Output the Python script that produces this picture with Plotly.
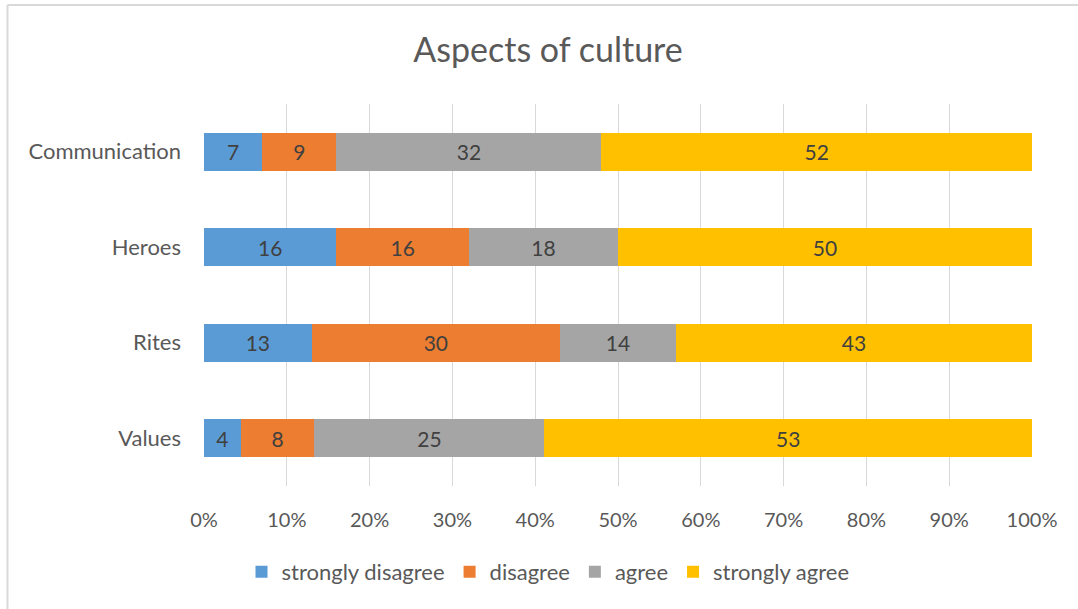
import plotly.graph_objects as go

categories = ["Values", "Rites", "Heroes", "Communication"]
series_names = ["strongly disagree", "disagree", "agree", "strongly agree"]
strongly_disagree = [4, 13, 16, 7]
disagree = [8, 30, 16, 9]
agree = [25, 14, 18, 32]
strongly_agree = [53, 43, 50, 52]
tick_vals = [0, 10, 20, 30, 40, 50, 60, 70, 80, 90, 100]
tick_text = ["0%", "10%", "20%", "30%", "40%", "50%", "60%", "70%", "80%", "90%", "100%"]

colors = ["#5B9BD5", "#ED7D31", "#A5A5A5", "#FFC000"]
FONT = "Lato"

fig = go.Figure()
for name, vals, col in zip(series_names, [strongly_disagree, disagree, agree, strongly_agree], colors):
    fig.add_trace(go.Bar(
        y=categories, x=vals, name=name, orientation="h",
        marker=dict(color=col, line=dict(width=0)),
        text=[str(v) for v in vals], textposition="inside", insidetextanchor="middle",
        textfont=dict(family=FONT, size=21, color="#404040"),
        constraintext="none",
    ))

W, H = 1078, 609
L, R, T, B = 204, 46, 104, 123
pw, ph = W - L - R, H - T - B

fig.update_layout(
    width=W, height=H,
    barmode="stack", barnorm="percent", bargap=0.6,
    plot_bgcolor="white", paper_bgcolor="white",
    margin=dict(l=L, r=R, t=T, b=B, pad=0),
    title=dict(text="Aspects of culture", x=548 / W, xanchor="center",
               y=1 - 50 / H, yanchor="middle",
               font=dict(family=FONT, size=34, color="#595959")),
    xaxis=dict(range=[0, 100], tickvals=tick_vals, ticktext=tick_text,
               showgrid=True, gridcolor="#D9D9D9", gridwidth=1.3,
               zeroline=False, showline=False, ticks="",
               tickfont=dict(family=FONT, size=20, color="#595959"),
               ticklabelstandoff=20),
    yaxis=dict(showgrid=False, zeroline=False, showline=False, ticks="",
               tickfont=dict(family=FONT, size=22, color="#595959"),
               ticklabelstandoff=22),
    legend=dict(orientation="h", x=548 / W, xanchor="center", xref="container",
                y=1 - 572 / H, yanchor="middle", yref="container",
                font=dict(family=FONT, size=22, color="#595959"),
                traceorder="normal", itemwidth=30),
    showlegend=True,
)

# outer chart border (left and top only visible)
x_left = (7.5 - L) / pw
y_top = 1 + (T - 5) / ph
y_bottom = -(B) / ph
fig.add_shape(type="line", xref="paper", yref="paper", x0=x_left, x1=x_left,
              y0=y_bottom, y1=y_top, line=dict(color="#D9D9D9", width=2))
fig.add_shape(type="line", xref="paper", yref="paper", x0=x_left, x1=(W - L) / pw,
              y0=y_top, y1=y_top, line=dict(color="#D9D9D9", width=2))

fig.write_html("out.html")
